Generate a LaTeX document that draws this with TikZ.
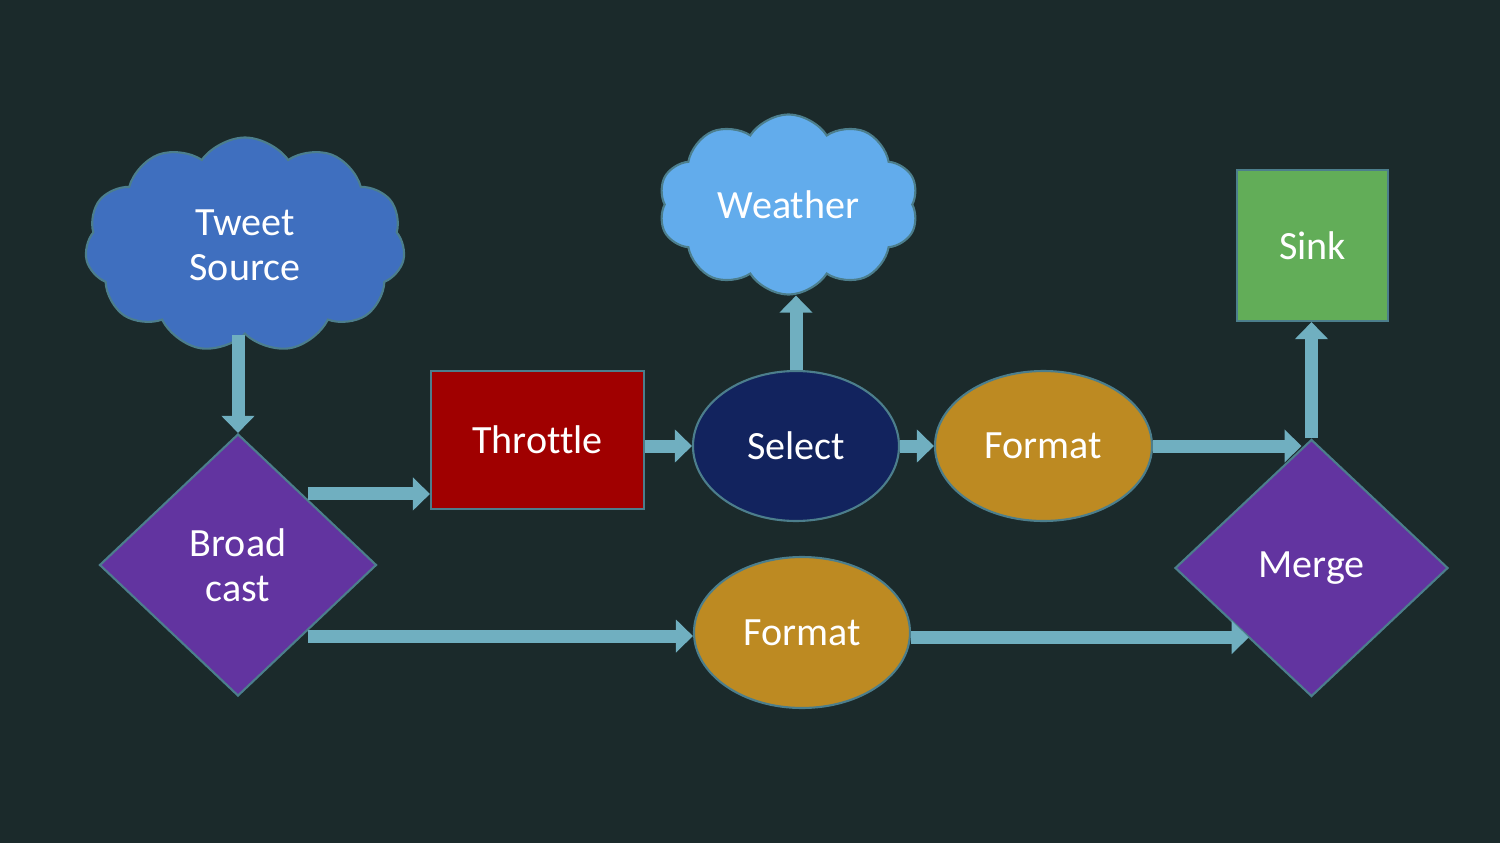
\documentclass[tikz,border=0pt]{standalone}
\usepackage{fontspec}
\setmainfont[Ligatures=NoCommon]{Carlito}
\usetikzlibrary{shapes.geometric,shapes.symbols,arrows.meta,calc}
\definecolor{bgdark}{HTML}{1B2A2B}
\definecolor{edgeteal}{HTML}{4C7E8C}
\definecolor{flowblue}{HTML}{70AFC0}
\definecolor{srcblue}{HTML}{3F6FBF}
\definecolor{skyblue}{HTML}{62ACEC}
\definecolor{castpurple}{HTML}{6234A0}
\definecolor{throtred}{HTML}{A00000}
\definecolor{selnavy}{HTML}{12235E}
\definecolor{fmtgold}{HTML}{BD8A22}
\definecolor{sinkgreen}{HTML}{62AD58}

\begin{document}
\begin{tikzpicture}
    \tikzstyle{flow} = [->,>={Triangle[length=1.7mm,width=3.2mm]},line width=1.3mm,draw=flowblue]
    \tikzstyle{block}=[
      draw=edgeteal,
      line width=0.6pt,
      text=white,
      align=center,
      inner sep=0pt,
      font=\fontsize{11.4}{12.8}\selectfont,
    ]

    \fill[bgdark] (0,0) rectangle (15,-8.43);

    \node[block,cloud,cloud puffs=11,cloud puff arc=110,fill=srcblue,
          minimum width=3.2cm,minimum height=2.15cm] (source) at (2.45,-2.45)
      {Tweet\\Source};
    \node[block,diamond,fill=castpurple,minimum width=2.77cm,minimum height=2.62cm]
      (bcast) at (2.38,-5.65) {Broad\\cast};
    \node[block,rectangle,fill=throtred,minimum width=2.13cm,minimum height=1.38cm]
      (throttle) at (5.375,-4.40) {Throttle};
    \node[block,ellipse,fill=selnavy,minimum width=2.06cm,minimum height=1.5cm]
      (select) at (7.96,-4.46) {Select};
    \node[block,cloud,cloud puffs=10,cloud puff arc=115,aspect=1.3,fill=skyblue,
          minimum width=2.6cm,minimum height=1.5cm] (weather) at (7.885,-2.045)
      {Weather};
    \node[block,ellipse,fill=fmtgold,minimum width=2.17cm,minimum height=1.5cm]
      (fmta) at (10.435,-4.46) {Format};
    \node[block,rectangle,fill=sinkgreen,minimum width=1.51cm,minimum height=1.51cm]
      (sink) at (13.125,-2.455) {Sink};
    \node[block,diamond,fill=castpurple,minimum width=2.73cm,minimum height=2.57cm]
      (merge) at (13.115,-5.68) {Merge};
    \node[block,ellipse,fill=fmtgold,minimum width=2.16cm,minimum height=1.51cm]
      (fmtb) at (8.02,-6.325) {Format};

    % source -> broadcast
    \draw[flow] (source.south -| bcast.north)
              --(bcast.north);

    % broadcast -> throttle / format
    \draw[flow] ([yshift=0.5mm]bcast.north east)
              --([yshift=0.5mm]bcast.north east -| throttle.west);
    \draw[flow] ([yshift=-0.5mm]bcast.south east)
              --([yshift=-0.5mm]bcast.south east -| fmtb.west);

    % throttle -> select -> format
    \draw[flow] (throttle.east |- select.west)
              --(select.west);
    \draw[flow] (select.east)
              --(fmta.west);

    % select -> weather
    \draw[flow] (select.north)
              --(select.north |- weather.south);

    % formats -> merge -> sink
    \draw[flow] (fmta.east)
              --([xshift=-1mm]fmta.east -| merge.north);
    \draw[flow] ([yshift=-0.5mm]fmtb.east)
              --([yshift=-0.5mm,xshift=0.6mm]fmtb.east -| merge.south west);
    \draw[flow] (merge.north)
              --(merge.north |- sink.south);
\end{tikzpicture}
\end{document}
